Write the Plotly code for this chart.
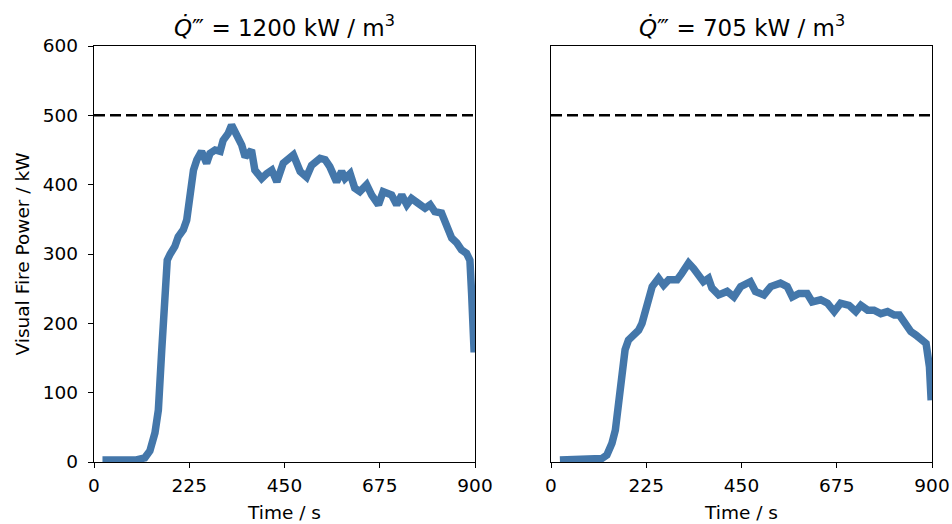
import plotly.graph_objects as go

# Left panel: Q''' = 1200 kW/m3
t_left = [20, 60, 100, 120, 132, 144, 152, 160, 168, 173, 180, 191, 199, 211, 219, 227, 235, 243,
          254, 266, 274, 286, 298, 305, 317, 325, 337, 349, 357, 372, 380, 396, 408, 420, 432, 447,
          471, 487, 502, 514, 534, 546, 557, 573, 585, 593, 605, 616, 628, 644, 656, 672, 683, 703,
          715, 727, 739, 750, 766, 782, 794, 805, 821, 833, 845, 857, 868, 880, 888, 892, 898]
v_left = [3, 3, 3, 6, 16, 42, 75, 161, 258, 291, 300, 311, 325, 335, 349, 383, 421, 436,
          448, 431, 445, 450, 448, 464, 474, 486, 472, 457, 440, 450, 421, 409, 416, 421, 404, 431,
          443, 419, 411, 428, 438, 436, 426, 404, 419, 409, 416, 395, 390, 400, 385, 371, 390, 385,
          371, 385, 371, 380, 373, 366, 371, 361, 359, 344, 323, 316, 306, 301, 291, 243, 158]

# Right panel: Q''' = 705 kW/m3
t_right = [21, 60, 100, 120, 132, 144, 152, 159, 169, 175, 183, 195, 207, 215, 227, 239, 254, 266,
           278, 298, 309, 325, 337, 349, 360, 372, 380, 396, 416, 432, 448, 471, 483, 503, 519, 542,
           558, 570, 586, 605, 617, 637, 653, 669, 684, 704, 720, 732, 748, 763, 779, 795, 811, 823,
           835, 850, 862, 874, 886, 894, 898]
v_right = [3, 3, 3, 5, 10, 27, 46, 80, 128, 162, 176, 183, 190, 200, 224, 253, 265, 255,
           263, 263, 272, 287, 279, 267, 260, 265, 251, 241, 246, 238, 253, 260, 246, 241, 253, 258,
           253, 238, 243, 243, 231, 234, 229, 217, 229, 226, 217, 226, 219, 219, 214, 217, 212, 212,
           200, 188, 183, 178, 171, 137, 89]

ref_level = 500
titles = ["<i>Q̇</i>‴ = 1200 kW / m<sup>3</sup>",
          "<i>Q̇</i>‴ = 705 kW / m<sup>3</sup>"]
x_ticks = [0, 225, 450, 675, 900]
y_ticks = [0, 100, 200, 300, 400, 500, 600]

W, H = 952, 524
line_color = "#4477AA"
font_family = "DejaVu Sans"
fs = 18.5

fig = go.Figure()

x_doms = [[94 / W, 475 / W], [551 / W, 932 / W]]
y_dom = [1 - 462 / H, 1 - 46 / H]

for i, (t, v) in enumerate([(t_left, v_left), (t_right, v_right)]):
    xa = "x" if i == 0 else "x2"
    ya = "y" if i == 0 else "y2"
    fig.add_trace(go.Scatter(x=t, y=v, mode="lines", xaxis=xa, yaxis=ya,
                             line=dict(color=line_color, width=7.5), showlegend=False))
    fig.add_trace(go.Scatter(x=[0, 900], y=[ref_level, ref_level], mode="lines", xaxis=xa, yaxis=ya,
                             line=dict(color="black", width=2.5, dash="11px,5px"), showlegend=False,
                             cliponaxis=False))

axis_common = dict(showgrid=False, zeroline=False, showline=True, linecolor="black", linewidth=1.3,
                   mirror=True, ticks="outside", ticklen=5, tickwidth=1.3, tickcolor="black",
                   automargin=False,
                   tickfont=dict(family=font_family, size=fs, color="black"))

fig.update_layout(
    width=W, height=H,
    margin=dict(l=0, r=0, t=0, b=0),
    plot_bgcolor="white", paper_bgcolor="white",
    font=dict(family=font_family, color="black"),
    xaxis=dict(domain=x_doms[0], range=[0, 900], tickvals=x_ticks, anchor="y", ticklabelstandoff=2,
               title=dict(text="Time / s", font=dict(size=fs), standoff=10), **axis_common),
    yaxis=dict(domain=y_dom, range=[0, 600], tickvals=y_ticks, anchor="x", ticklabelstandoff=6,
               title=dict(text="Visual Fire Power / kW", font=dict(size=fs), standoff=8), **axis_common),
    xaxis2=dict(domain=x_doms[1], range=[0, 900], tickvals=x_ticks, anchor="y2", ticklabelstandoff=2,
                title=dict(text="Time / s", font=dict(size=fs), standoff=10), **axis_common),
    yaxis2=dict(domain=y_dom, range=[0, 600], tickvals=y_ticks, anchor="x2", **axis_common),
)
fig.update_layout(yaxis2=dict(showticklabels=False, ticks=""))

for i, title in enumerate(titles):
    cx = (x_doms[i][0] + x_doms[i][1]) / 2
    fig.add_annotation(text=title, x=cx, y=1 - 26 / H, xref="paper", yref="paper",
                       xanchor="center", yanchor="middle", showarrow=False,
                       font=dict(family=font_family, size=23, color="black"))

fig.write_html("out.html")
